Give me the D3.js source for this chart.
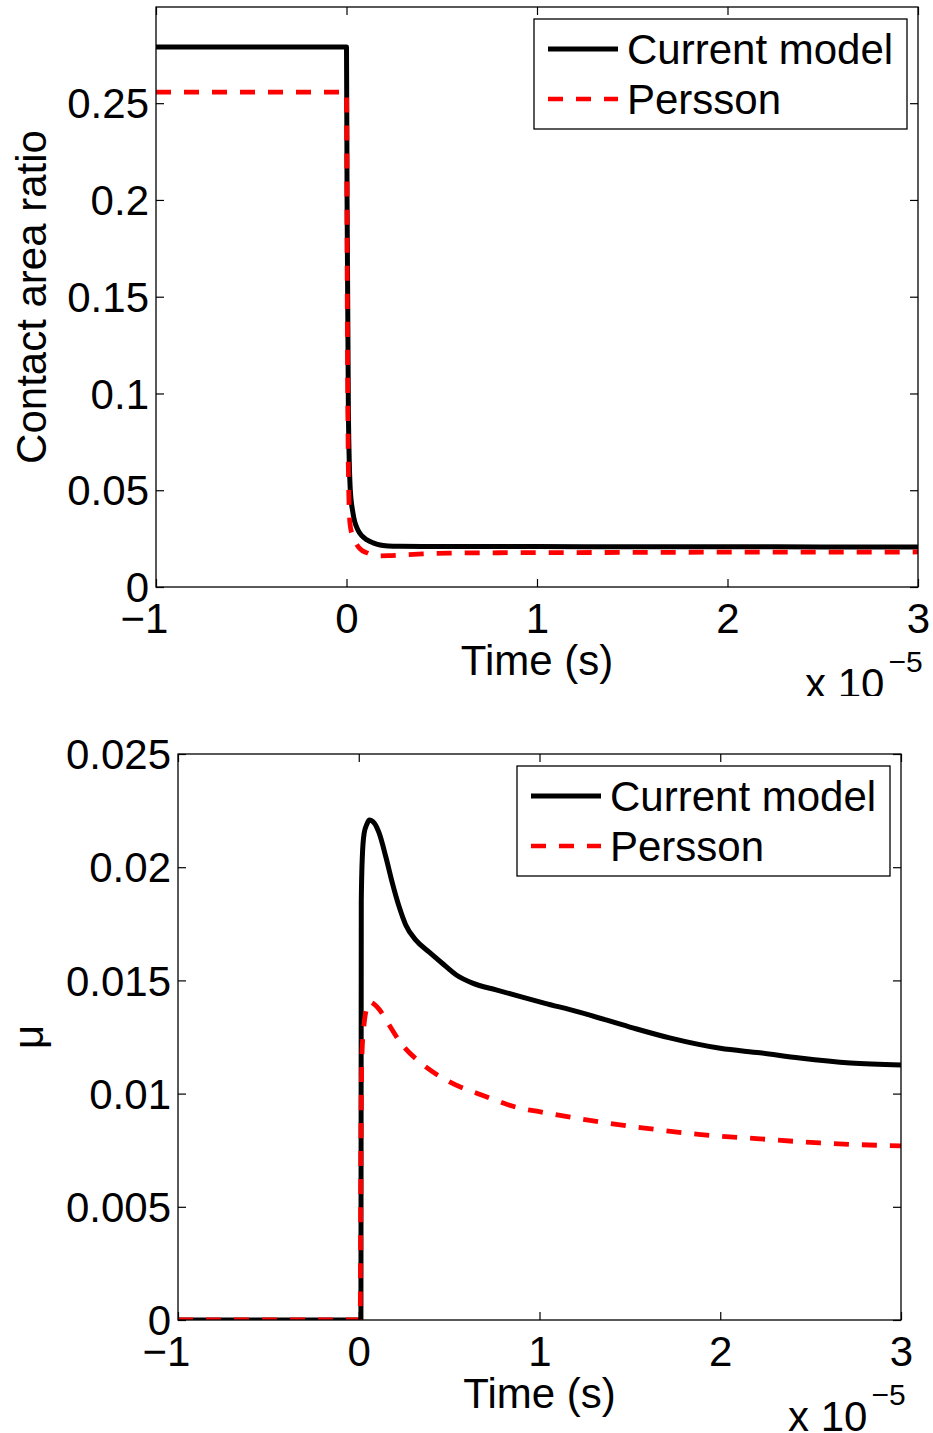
<!DOCTYPE html>
<html>
<head>
<meta charset="utf-8">
<script src="https://cdn.jsdelivr.net/npm/d3@7"></script>
<style>
  body { margin: 0; background: #fff; }
  svg text { font-family: "Liberation Sans", Arial, Helvetica, sans-serif; fill: #000; }
</style>
</head>
<body>
<script>
const width = 933;
const height = 1433;
const fontSize = 42;

// time axis, in units of 1e-5 s
const timeTicks = [-1, 0, 1, 2, 3];
const timeTickLabels = ["\u22121", "0", "1", "2", "3"];
const legendLabels = ["Current model", "Persson"];

// top panel: contact area ratio
const areaTimeCurrent = [-1, 0, 0.003, 0.01, 0.02, 0.034, 0.06, 0.08, 0.108, 0.14, 0.176, 0.22, 0.28, 0.4, 0.6, 1, 1.5, 2, 2.5, 3];
const areaCurrent = [0.279, 0.279, 0.2, 0.09, 0.05, 0.0382, 0.0294, 0.0265, 0.0243, 0.0228, 0.0217, 0.0212, 0.021, 0.0209, 0.0209, 0.0209, 0.0208, 0.0208, 0.0207, 0.0207];
const areaTimePersson = [-1, 0, 0.004, 0.01, 0.018, 0.03, 0.045, 0.07, 0.108, 0.16, 0.22, 0.28, 0.4, 0.54, 0.8, 1.2, 1.6, 2, 2.5, 3];
const areaPersson = [0.2557, 0.2557, 0.15, 0.06, 0.033, 0.027, 0.0235, 0.0198, 0.0176, 0.0161, 0.0162, 0.0165, 0.0171, 0.0175, 0.0177, 0.0178, 0.0179, 0.018, 0.018, 0.0181];
const areaTicks = [0, 0.05, 0.1, 0.15, 0.2, 0.25];
const areaTickLabels = ["0", "0.05", "0.1", "0.15", "0.2", "0.25"];
const areaMax = 0.2997;

// bottom panel: friction coefficient
const muTimeCurrent = [-1, 0.012, 0.014, 0.02, 0.03, 0.045, 0.058, 0.086, 0.113, 0.15, 0.186, 0.224, 0.26, 0.316, 0.39, 0.46, 0.54, 0.63, 0.76, 0.9, 1.026, 1.22, 1.5, 1.72, 2.0, 2.22, 2.44, 2.72, 3.0];
const muCurrent = [0, 0, 0.0185, 0.0205, 0.0215, 0.0219, 0.02208, 0.02195, 0.0215, 0.02045, 0.0193, 0.01824, 0.01745, 0.01678, 0.01625, 0.01577, 0.01524, 0.01488, 0.01458, 0.01427, 0.014, 0.0136, 0.01294, 0.01246, 0.012, 0.0118, 0.01157, 0.01135, 0.01126];
const muTimePersson = [-1, 0.008, 0.012, 0.018, 0.03, 0.045, 0.06, 0.085, 0.115, 0.155, 0.233, 0.344, 0.5, 0.68, 0.89, 1.0, 1.33, 1.58, 1.88, 2.22, 2.55, 3.0];
const muPersson = [0, 0, 0.008, 0.0118, 0.0131, 0.0138, 0.01405, 0.01395, 0.0137, 0.0132, 0.01223, 0.01135, 0.01053, 0.00994, 0.00936, 0.0092, 0.00875, 0.00848, 0.0082, 0.008, 0.00782, 0.00769];
const muTicks = [0, 0.005, 0.01, 0.015, 0.02, 0.025];
const muTickLabels = ["0", "0.005", "0.01", "0.015", "0.02", "0.025"];

const svg = d3
  .select("body")
  .append("svg")
  .attr("width", width)
  .attr("height", height);

const zip = (xs, ys) => xs.map((x, i) => [x, ys[i]]);

const drawPanel = (p) => {
  const g = svg.append("g").attr("clip-path", `url(#${p.id}-all)`);

  svg
    .append("clipPath")
    .attr("id", `${p.id}-all`)
    .append("rect")
    .attr("x", 0)
    .attr("y", p.clipTop)
    .attr("width", width)
    .attr("height", p.clipBottom - p.clipTop);

  svg
    .append("clipPath")
    .attr("id", `${p.id}-plot`)
    .append("rect")
    .attr("x", p.left)
    .attr("y", p.top)
    .attr("width", p.right - p.left)
    .attr("height", p.bottom - p.top);

  const x = d3.scaleLinear().domain([-1, 3]).range([p.left, p.right]);
  const y = d3.scaleLinear().domain([0, p.yMax]).range([p.bottom, p.top]);

  const line = d3
    .line()
    .x((d) => x(d[0]))
    .y((d) => y(d[1]))
    .curve(d3.curveMonotoneX);

  const lines = g.append("g").attr("clip-path", `url(#${p.id}-plot)`);
  lines
    .append("path")
    .datum(zip(p.tCurrent, p.current))
    .attr("d", line)
    .attr("fill", "none")
    .attr("stroke", "#000")
    .attr("stroke-width", 5)
    .attr("stroke-linejoin", "round");
  lines
    .append("path")
    .datum(zip(p.tPersson, p.persson))
    .attr("d", line)
    .attr("fill", "none")
    .attr("stroke", "#ff0000")
    .attr("stroke-width", 4.8)
    .attr("stroke-dasharray", "15,13");

  // axes with inward ticks on all four sides
  const tick = 8;
  const xAxis = g
    .append("g")
    .attr("transform", `translate(0,${p.bottom})`)
    .call(
      d3
        .axisBottom(x)
        .tickValues(timeTicks)
        .tickFormat((d, i) => timeTickLabels[i])
        .tickSize(-tick)
        .tickSizeOuter(0)
        .tickPadding(16)
    );
  xAxis
    .selectAll("text")
    .filter((d) => d < 0)
    .attr("text-anchor", "end")
    .attr("dx", fontSize * 0.28);

  g.append("g")
    .attr("transform", `translate(0,${p.top})`)
    .call(d3.axisTop(x).tickValues(timeTicks).tickFormat("").tickSize(-tick).tickSizeOuter(0));

  const yAxis = g
    .append("g")
    .attr("transform", `translate(${p.left},0)`)
    .call(
      d3
        .axisLeft(y)
        .tickValues(p.ticks)
        .tickFormat((d, i) => p.tickLabels[i])
        .tickSize(-tick)
        .tickSizeOuter(0)
        .tickPadding(7)
    );
  yAxis.selectAll("text").attr("dy", "0.35em");

  g.append("g")
    .attr("transform", `translate(${p.right},0)`)
    .call(d3.axisRight(y).tickValues(p.ticks).tickFormat("").tickSize(-tick).tickSizeOuter(0));

  g.selectAll(".domain").remove();
  g.selectAll(".tick line").attr("stroke", "#000").attr("stroke-width", 1.2);
  g.selectAll(".tick text").attr("font-size", fontSize).attr("font-family", null);

  g.append("rect")
    .attr("x", p.left)
    .attr("y", p.top)
    .attr("width", p.right - p.left)
    .attr("height", p.bottom - p.top)
    .attr("fill", "none")
    .attr("stroke", "#000")
    .attr("stroke-width", 1.3);

  // labels
  g.append("text")
    .text("Time (s)")
    .attr("x", (p.left + p.right) / 2)
    .attr("y", p.bottom + 88)
    .attr("text-anchor", "middle")
    .attr("font-size", fontSize);

  g.append("text")
    .text(p.yLabel)
    .attr("transform", `translate(${p.yLabelX},${(p.top + p.bottom) / 2}) rotate(-90)`)
    .attr("text-anchor", "middle")
    .attr("font-size", fontSize);

  const expo = g
    .append("text")
    .attr("x", p.right - 113)
    .attr("y", p.bottom + 111)
    .attr("font-size", fontSize);
  expo.append("tspan").text("x 10");
  expo
    .append("tspan")
    .text("\u22125")
    .attr("font-size", 30)
    .attr("dx", 4)
    .attr("dy", -26);

  // legend
  const lx = p.right - 384;
  const ly = p.top + 12;
  const legend = g.append("g").attr("transform", `translate(${lx},${ly})`);
  legend
    .append("rect")
    .attr("width", 373)
    .attr("height", 110)
    .attr("fill", "#fff")
    .attr("stroke", "#000")
    .attr("stroke-width", 1.3);
  legendLabels.forEach((label, i) => {
    legend
      .append("line")
      .attr("x1", 14)
      .attr("x2", 84)
      .attr("y1", 30 + i * 50)
      .attr("y2", 30 + i * 50)
      .attr("stroke", i === 0 ? "#000" : "#ff0000")
      .attr("stroke-width", i === 0 ? 5 : 4.5)
      .attr("stroke-dasharray", i === 0 ? null : "15,13");
    legend
      .append("text")
      .text(label)
      .attr("x", 93)
      .attr("y", 45 + i * 50)
      .attr("font-size", fontSize);
  });
};

drawPanel({
  id: "area",
  left: 156,
  right: 918,
  top: 7,
  bottom: 587,
  clipTop: 0,
  clipBottom: 696,
  yMax: areaMax,
  ticks: areaTicks,
  tickLabels: areaTickLabels,
  yLabel: "Contact area ratio",
  yLabelX: 46,
  tCurrent: areaTimeCurrent,
  current: areaCurrent,
  tPersson: areaTimePersson,
  persson: areaPersson,
});

drawPanel({
  id: "mu",
  left: 178,
  right: 901,
  top: 754,
  bottom: 1320,
  clipTop: 700,
  clipBottom: height,
  yMax: 0.025,
  ticks: muTicks,
  tickLabels: muTickLabels,
  yLabel: "\u03bc",
  yLabelX: 43,
  tCurrent: muTimeCurrent,
  current: muCurrent,
  tPersson: muTimePersson,
  persson: muPersson,
});
</script>
</body>
</html>
